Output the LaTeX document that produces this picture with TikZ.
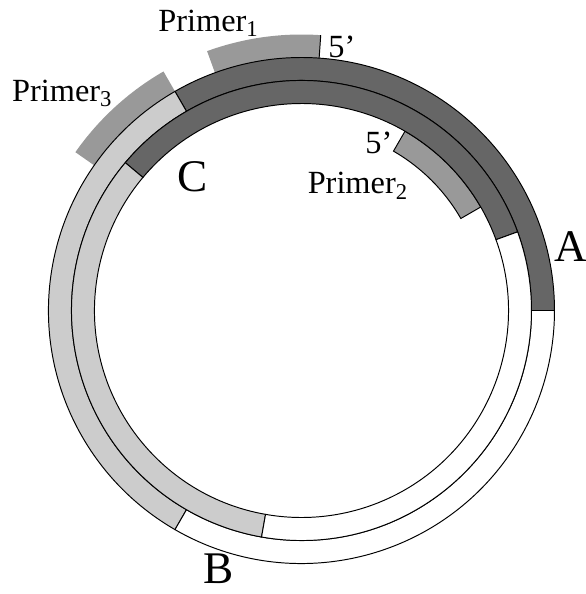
\documentclass[tikz,border=0pt]{standalone}
\usepackage{fontspec}
\setmainfont{Liberation Serif}

\definecolor{strandA}{gray}{0.4}
\definecolor{strandB}{gray}{0.8}
\definecolor{primer}{gray}{0.6}

% ring segment: fill, inner radius, outer radius, start angle, end angle
\newcommand{\ringseg}[6][draw=black]{%
  \path[#1,fill=#2] (#5:#4) arc[start angle=#5,end angle=#6,radius=#4]
    -- (#6:#3) arc[start angle=#6,end angle=#5,radius=#3] -- cycle;}

\begin{document}
\begin{tikzpicture}[line width=0.6pt,
  lbl/.style={inner sep=0pt,anchor=base west,font=\fontsize{20}{23}\selectfont},
  site/.style={inner sep=0pt,anchor=base west,font=\fontsize{28}{32}\selectfont}]
\useasboundingbox (-6.554,-6.163) rectangle (6.185,6.750);

% primers
\ringseg[draw=none]{primer}{5.5}{6}{86}{110}
\ringseg[draw=none]{primer}{5.5}{6}{120}{145}
\ringseg{primer}{4}{4.5}{30}{60}
\draw (86:5.5) -- (86:6);

% outer strand
\ringseg{strandA}{5}{5.5}{0}{120}
\ringseg{strandB}{5}{5.5}{120}{240}
\ringseg{white}{5}{5.5}{240}{360}

% inner strand
\ringseg{strandA}{4.5}{5}{20}{140}
\ringseg{strandB}{4.5}{5}{140}{260}
\ringseg{white}{4.5}{5}{260}{380}

% labels
\node[lbl] (p1) at (-3.119,6.061) {Primer\textsubscript{1}};
\node[lbl] (p1end) at (0.576,5.504) {5’};
\node[lbl] (p3) at (-6.30,4.54) {Primer\textsubscript{3}};
\node[lbl] (p2end) at (1.380,3.417) {5’};
\node[lbl] (p2) at (0.126,2.533) {Primer\textsubscript{2}};
\node[site] (A) at (5.489,1.061) {A};
\node[site] (B) at (-2.148,-5.930) {B};
\node[site] (C) at (-2.713,2.583) {C};
\end{tikzpicture}
\end{document}
